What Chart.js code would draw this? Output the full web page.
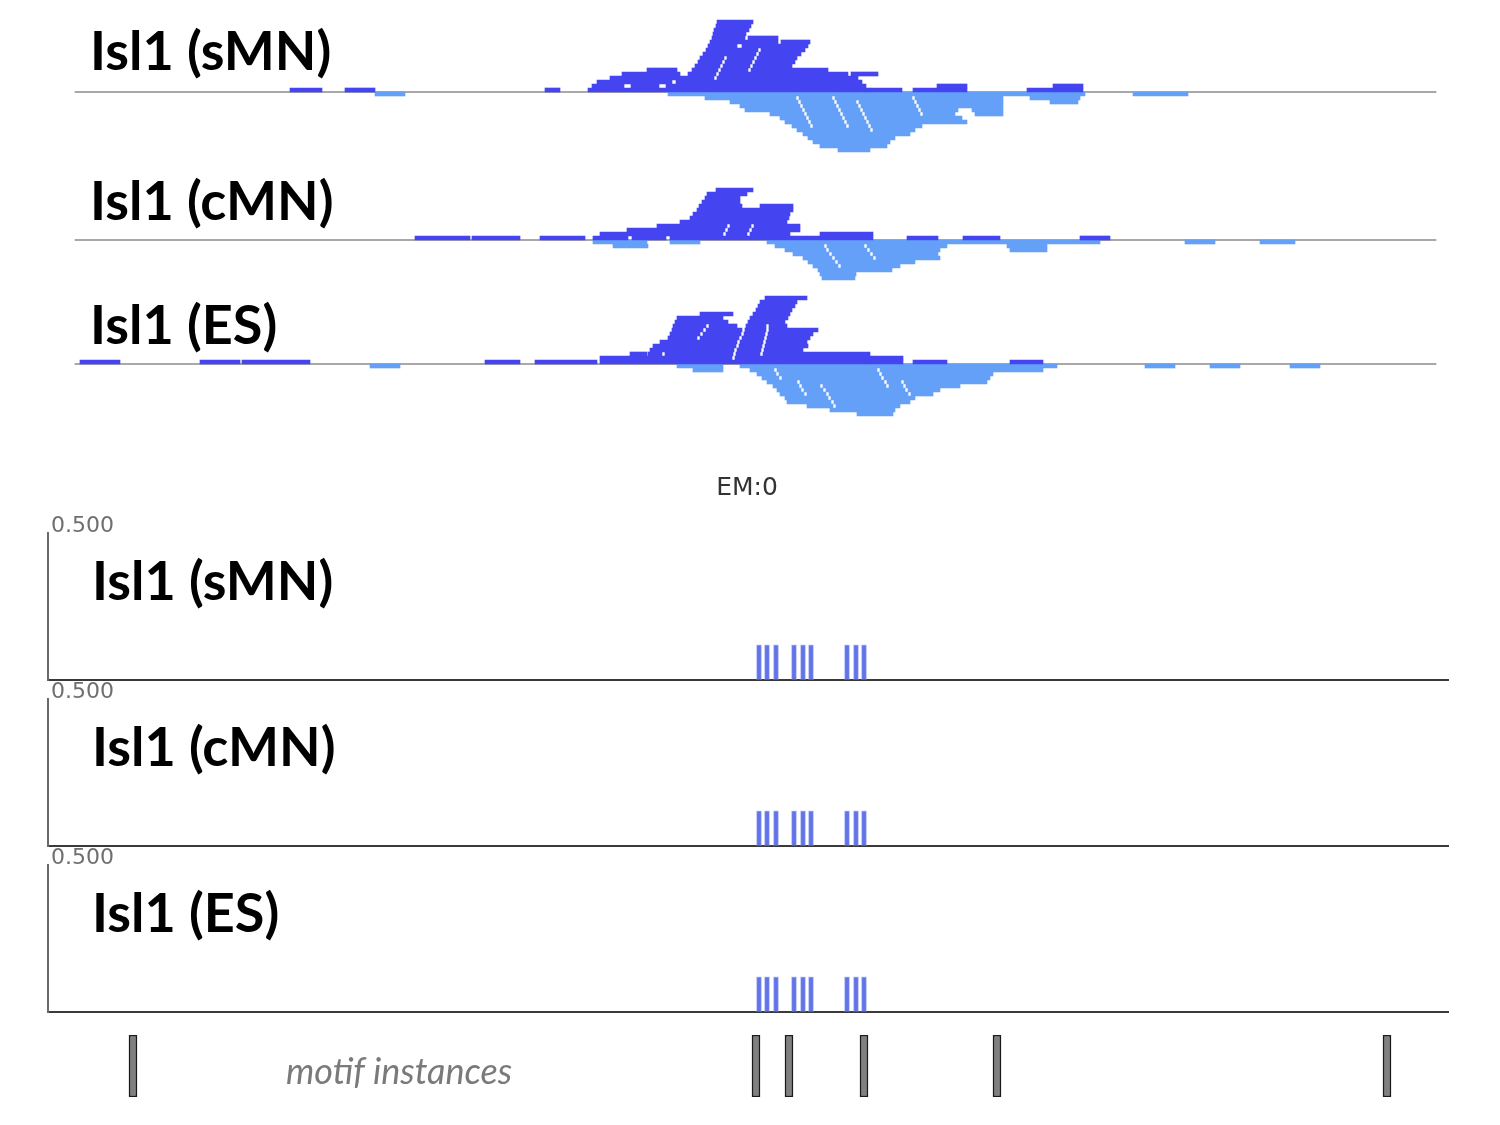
<!DOCTYPE html>
<html>
<head>
<meta charset="utf-8">
<script src="https://cdn.jsdelivr.net/npm/chart.js@4.4.0/dist/chart.umd.min.js"></script>
<style>
  body { margin: 0; background: #fff; }
  #page { position: relative; width: 1500px; height: 1125px; overflow: hidden; }
  canvas { position: absolute; left: 0; }
  .lbl { position: absolute; font-family: Lato, "Open Sans", sans-serif; font-weight: 700;
         font-size: 54px; line-height: 1; color: #000; white-space: nowrap; z-index: 5; }
  .motif { position: absolute; font-family: Lato, "Open Sans", sans-serif; font-style: italic;
           font-size: 36px; line-height: 1; color: #7a7a7a; white-space: nowrap; }
</style>
</head>
<body>
<div id="page">
  <canvas id="pSMN" width="1500" height="170" style="top:0px"></canvas>
  <canvas id="pCMN" width="1500" height="120" style="top:170px"></canvas>
  <canvas id="pES" width="1500" height="150" style="top:290px"></canvas>
  <canvas id="tSMN" width="1500" height="225" style="top:460px"></canvas>
  <canvas id="tCMN" width="1500" height="175" style="top:676px"></canvas>
  <canvas id="tES" width="1500" height="175" style="top:842px"></canvas>
  <canvas id="motifs" width="1500" height="75" style="top:1030px"></canvas>

  <div class="lbl" style="left:90px;top:23px">Isl1 (sMN)</div>
  <div class="lbl" style="left:90px;top:173px">Isl1 (cMN)</div>
  <div class="lbl" style="left:90px;top:297px">Isl1 (ES)</div>
  <div class="lbl" style="left:92px;top:553px">Isl1 (sMN)</div>
  <div class="lbl" style="left:92px;top:719px">Isl1 (cMN)</div>
  <div class="lbl" style="left:92px;top:885px">Isl1 (ES)</div>
  <div class="motif" style="left:286px;top:1052px">motif instances</div>
</div>

<script>
// pileup reads, [stack row, start, end] (x in page columns), forward above / reverse below
var smnFwd = [
  [0, 290, 322], [0, 345, 375], [0, 545, 560], [0, 588, 870], [0, 870, 902], [0, 913, 967], [0, 1027, 1083],
  [1, 592, 624], [1, 631, 659], [1, 666, 866], [1, 937, 967], [1, 1053, 1083],
  [2, 597, 672], [2, 676, 862],
  [3, 610, 714], [3, 717, 858],
  [4, 622, 680], [4, 688, 716], [4, 719, 848], [4, 851, 878],
  [5, 647, 677], [5, 692, 718], [5, 721, 748], [5, 751, 828],
  [6, 695, 720], [6, 723, 750], [6, 753, 792],
  [7, 698, 722], [7, 725, 752], [7, 755, 795],
  [8, 700, 724], [8, 727, 754], [8, 757, 797],
  [9, 703, 756], [9, 759, 801],
  [10, 706, 758], [10, 761, 805],
  [11, 708, 737], [11, 742, 808],
  [12, 710, 778], [12, 781, 810],
  [13, 712, 745], [13, 748, 778],
  [14, 713, 746],
  [15, 714, 749],
  [16, 716, 751],
  [17, 717, 753]
];
var smnRev = [
  [0, 375, 405], [0, 668, 1085], [0, 1133, 1188],
  [1, 705, 796], [1, 799, 832], [1, 835, 912], [1, 915, 1003], [1, 1030, 1080],
  [2, 730, 798], [2, 801, 834], [2, 837, 856], [2, 859, 914], [2, 917, 1003], [2, 1050, 1078],
  [3, 740, 800], [3, 803, 836], [3, 839, 858], [3, 861, 916], [3, 919, 1003],
  [4, 745, 802], [4, 805, 838], [4, 841, 860], [4, 863, 918], [4, 921, 958], [4, 972, 1003],
  [5, 770, 804], [5, 807, 840], [5, 843, 862], [5, 865, 920], [5, 923, 955], [5, 975, 1003],
  [6, 780, 806], [6, 809, 842], [6, 845, 864], [6, 867, 962],
  [7, 785, 808], [7, 811, 844], [7, 847, 866], [7, 869, 967],
  [8, 792, 810], [8, 813, 846], [8, 849, 868], [8, 871, 922],
  [9, 797, 870], [9, 873, 915],
  [10, 803, 910],
  [11, 808, 895],
  [12, 813, 890],
  [13, 820, 887],
  [14, 838, 870]
];
var cmnFwd = [
  [0, 415, 470], [0, 472, 520], [0, 540, 585], [0, 593, 628], [0, 632, 666], [0, 670, 873], [0, 907, 938], [0, 963, 1000], [0, 1080, 1110],
  [1, 600, 723], [1, 726, 747], [1, 750, 790], [1, 820, 873],
  [2, 627, 725], [2, 728, 749], [2, 752, 800],
  [3, 657, 727], [3, 730, 751], [3, 754, 800],
  [4, 680, 787],
  [5, 690, 789],
  [6, 693, 790],
  [7, 697, 793],
  [8, 699, 742], [8, 760, 793],
  [9, 702, 740],
  [10, 705, 740],
  [11, 707, 747],
  [12, 716, 753]
];
var cmnRev = [
  [0, 593, 647], [0, 670, 700], [0, 767, 1100], [0, 1185, 1215], [0, 1260, 1295],
  [1, 613, 648], [1, 775, 824], [1, 827, 864], [1, 867, 947], [1, 1007, 1047],
  [2, 785, 826], [2, 829, 867], [2, 870, 940], [2, 1010, 1047],
  [3, 793, 829], [3, 832, 870], [3, 873, 938],
  [4, 803, 832], [4, 835, 873], [4, 876, 940],
  [5, 808, 835], [5, 838, 915],
  [6, 813, 838], [6, 841, 900],
  [7, 818, 892],
  [8, 820, 856],
  [9, 822, 855]
];
var esFwd = [
  [0, 80, 120], [0, 200, 240], [0, 242, 310], [0, 485, 520], [0, 535, 597], [0, 600, 870], [0, 870, 903], [0, 913, 947], [0, 1010, 1043],
  [1, 600, 732], [1, 735, 903],
  [2, 630, 647], [2, 648, 662], [2, 665, 733], [2, 736, 760], [2, 763, 870],
  [3, 650, 734], [3, 737, 761], [3, 764, 803],
  [4, 653, 736], [4, 739, 762], [4, 765, 808],
  [5, 660, 737], [5, 740, 763], [5, 766, 807],
  [6, 668, 697], [6, 700, 739], [6, 742, 764], [6, 767, 810],
  [7, 670, 700], [7, 703, 741], [7, 744, 765], [7, 768, 813],
  [8, 672, 703], [8, 706, 742], [8, 745, 766], [8, 769, 818],
  [9, 673, 706], [9, 709, 737], [9, 746, 766], [9, 769, 787],
  [10, 675, 728], [10, 748, 785],
  [11, 677, 723], [11, 750, 788],
  [12, 700, 733], [12, 753, 790],
  [13, 756, 792],
  [14, 758, 795],
  [15, 760, 797],
  [16, 765, 807]
];
var esRev = [
  [0, 370, 400], [0, 677, 723], [0, 740, 1057], [0, 1145, 1175], [0, 1210, 1240], [0, 1290, 1320],
  [1, 693, 723], [1, 750, 774], [1, 777, 877], [1, 880, 1043],
  [2, 757, 776], [2, 779, 879], [2, 882, 993],
  [3, 762, 779], [3, 782, 881], [3, 884, 990],
  [4, 767, 797], [4, 800, 884], [4, 887, 901], [4, 904, 987],
  [5, 773, 799], [5, 802, 820], [5, 823, 886], [5, 889, 903], [5, 906, 960],
  [6, 777, 801], [6, 804, 823], [6, 826, 905], [6, 908, 940],
  [7, 780, 804], [7, 807, 826], [7, 829, 908], [7, 911, 933],
  [8, 785, 828], [8, 831, 915],
  [9, 787, 831], [9, 834, 910],
  [10, 807, 833], [10, 836, 900],
  [11, 830, 895],
  [12, 857, 893]
];
var trackRange = [75, 1436];

// motif score tracks
var scorePos = [759, 767, 776, 794, 803, 811, 847, 856, 864];
var scoreSMN = [0.12, 0.12, 0.12, 0.12, 0.12, 0.12, 0.12, 0.12, 0.12];
var scoreCMN = [0.12, 0.12, 0.12, 0.12, 0.12, 0.12, 0.12, 0.12, 0.12];
var scoreES = [0.12, 0.12, 0.12, 0.12, 0.12, 0.12, 0.12, 0.12, 0.12];
var scoreMax = 0.5;
var emLabel = "EM:0";

var motifPos = [133, 756, 789, 864, 997, 1387];

Chart.defaults.animation = false;
Chart.defaults.plugins.legend.display = false;
Chart.defaults.plugins.tooltip.enabled = false;

function toBars(reads, sign) {
  return reads.map(function(r) {
    return { x: [r[1], r[2]], y: sign * (r[0] + 0.5) };
  });
}

function pileup(id, fwd, rev, above, below) {
  new Chart(document.getElementById(id), {
    type: "bar",
    data: {
      datasets: [
        { data: toBars(fwd, 1), backgroundColor: "rgb(68,68,240)", barThickness: 4, grouped: false, order: 1 },
        { data: toBars(rev, -1), backgroundColor: "rgb(100,160,247)", barThickness: 4, grouped: false, order: 1 },
        { data: [{ x: trackRange, y: 0 }], backgroundColor: "#a8a8a8", barThickness: 1.5, grouped: false, order: 2 }
      ]
    },
    options: {
      indexAxis: "y",
      responsive: false,
      devicePixelRatio: 1,
      layout: { padding: 0 },
      scales: {
        x: { type: "linear", min: 0, max: 1500, display: false },
        y: { type: "linear", min: -below, max: above, offset: false, display: false }
      }
    }
  });
}

pileup("pSMN", smnFwd, smnRev, 23, 19.5);
pileup("pCMN", cmnFwd, cmnRev, 17.5, 12.5);
pileup("pES", esFwd, esRev, 18.5, 19);

var rangeLabel = {
  id: "rangeLabel",
  afterDraw: function(chart) {
    var ctx = chart.ctx, y = chart.scales.y, a = chart.chartArea;
    ctx.save();
    ctx.fillStyle = "#6f6f6f";
    ctx.font = "22px 'DejaVu Sans'";
    ctx.textBaseline = "alphabetic";
    ctx.fillText(y.max.toFixed(3), a.left + 3, y.getPixelForValue(y.max) - 1);
    if (chart.options.plugins.emTitle) {
      ctx.fillStyle = "#333";
      ctx.font = "25px 'DejaVu Sans'";
      ctx.textAlign = "center";
      ctx.fillText(chart.options.plugins.emTitle, 747, 35);
    }
    ctx.restore();
  }
};

function scoreTrack(id, values, padTop, title) {
  new Chart(document.getElementById(id), {
    type: "bar",
    data: {
      datasets: [{
        data: scorePos.map(function(p, i) { return { x: p, y: values[i] }; }),
        backgroundColor: "rgba(72,92,228,0.85)",
        borderColor: "rgba(120,140,240,0.6)",
        borderWidth: 1,
        barThickness: 5
      }]
    },
    options: {
      responsive: false,
      devicePixelRatio: 1,
      layout: { padding: { left: 48, right: 52, top: padTop, bottom: 5 } },
      plugins: { emTitle: title },
      scales: {
        x: {
          type: "linear", min: 48, max: 1448, offset: false,
          grid: { display: false, drawTicks: false },
          ticks: { display: false },
          border: { display: true, color: "#3a3a3a", width: 2 },
          afterFit: function(s) { s.height = 0; }
        },
        y: {
          min: 0, max: scoreMax,
          grid: { display: false, drawTicks: false },
          ticks: { display: false },
          border: { display: true, color: "#6a6a6a", width: 2 },
          afterFit: function(s) { s.width = 0; }
        }
      }
    },
    plugins: [rangeLabel]
  });
}

scoreTrack("tSMN", scoreSMN, 73, emLabel);
scoreTrack("tCMN", scoreCMN, 23, null);
scoreTrack("tES", scoreES, 23, null);

new Chart(document.getElementById("motifs"), {
  type: "bar",
  data: {
    datasets: [{
      data: motifPos.map(function(p) { return { x: p, y: [0, 1] }; }),
      backgroundColor: "#808080",
      borderColor: "#1a1a1a",
      borderWidth: 1.5,
      borderSkipped: false,
      barThickness: 8
    }]
  },
  options: {
    responsive: false,
    devicePixelRatio: 1,
    layout: { padding: { top: 5, bottom: 8 } },
    scales: {
      x: { type: "linear", min: 0, max: 1500, offset: false, display: false },
      y: { min: 0, max: 1, display: false }
    }
  }
});
</script>
</body>
</html>
